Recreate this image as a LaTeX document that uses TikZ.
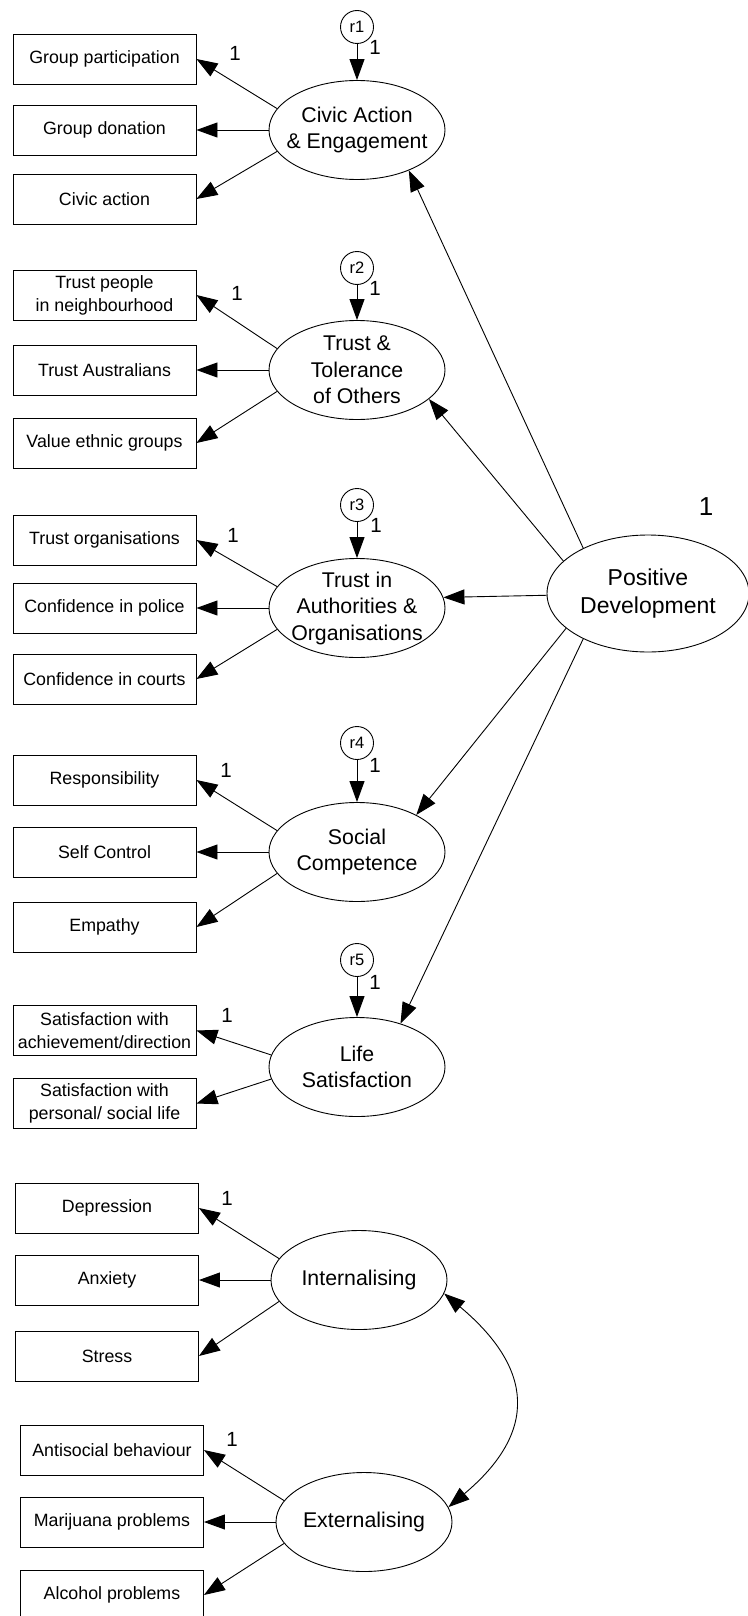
\documentclass[tikz,border=0pt]{standalone}
\usepackage{fontspec}
\setmainfont{Liberation Sans}
\usetikzlibrary{arrows.meta,shapes.geometric}
\tikzset{
  >={Triangle[length=21pt,width=15pt]},
  measure/.style={draw, line width=.9pt, minimum width=183pt, minimum height=50pt, inner sep=0pt,
    align=center, font=\fontsize{17.8}{23}\selectfont},
  factor/.style={draw, ellipse, line width=.9pt, minimum width=176pt, minimum height=99pt, inner sep=-15pt,
    align=center, font=\fontsize{21.3}{26.5}\selectfont},
  err/.style={draw, circle, line width=.9pt, minimum size=33pt, inner sep=0pt, font=\fontsize{16.5}{18}\selectfont},
  link/.style={->, line width=.9pt},
  one/.style={font=\fontsize{20.5}{22}\selectfont}
}

\begin{document}
\begin{tikzpicture}[x=1pt,y=1pt]
  \useasboundingbox (0,0) rectangle (747,-1616);

  % civic action
  \node[factor] (civic) at (357,-130) {Civic Action\\\& Engagement};
  \node[measure] (civ1) at (104.5,-59) {Group participation};
  \node[measure] (civ2) at (104.5,-130) {Group donation};
  \node[measure] (civ3) at (104.5,-199) {Civic action};
  \node[err] (r1) at (357,-27) {r1};

  % trust and tolerance
  \node[factor] (tol) at (357,-370) {Trust \&\\Tolerance\\of Others};
  \node[measure] (tol1) at (104.5,-295) {Trust people\\in neighbourhood};
  \node[measure] (tol2) at (104.5,-370) {Trust Australians};
  \node[measure] (tol3) at (104.5,-443) {Value ethnic groups};
  \node[err] (r2) at (357,-268) {r2};

  % authorities
  \node[factor] (auth) at (357,-608) {Trust in\\Authorities \&\\Organisations};
  \node[measure] (aut1) at (104.5,-540) {Trust organisations};
  \node[measure] (aut2) at (104.5,-608) {Confidence in police};
  \node[measure] (aut3) at (104.5,-679) {Confidence in courts};
  \node[err] (r3) at (357,-505) {r3};

  % social competence
  \node[factor] (soc) at (357,-852) {Social\\Competence};
  \node[measure] (soc1) at (104.5,-780) {Responsibility};
  \node[measure] (soc2) at (104.5,-852) {Self Control};
  \node[measure] (soc3) at (104.5,-927) {Empathy};
  \node[err] (r4) at (357,-743) {r4};

  % life satisfaction
  \node[factor] (life) at (357,-1067) {Life\\Satisfaction};
  \node[measure] (lif1) at (104.5,-1030.5) {Satisfaction with\\achievement/direction};
  \node[measure] (lif2) at (104.5,-1103.5) {Satisfaction with\\personal/ social life};
  \node[err] (r5) at (357,-960) {r5};

  % internalising / externalising
  \node[factor] (intl) at (359,-1280) {Internalising};
  \node[measure] (int1) at (107,-1208) {Depression};
  \node[measure] (int2) at (107,-1280) {Anxiety};
  \node[measure] (int3) at (107,-1356) {Stress};
  \node[factor] (extl) at (364,-1522) {Externalising};
  \node[measure] (ext1) at (112,-1450) {Antisocial behaviour};
  \node[measure] (ext2) at (112,-1522) {Marijuana problems};
  \node[measure] (ext3) at (112,-1595) {Alcohol problems};

  \node[factor,minimum width=202pt,minimum height=117pt,font=\fontsize{23}{28}\selectfont]
    (pd) at (648,-593.5) {Positive\\Development};
  \node[font=\fontsize{26}{28}\selectfont] at (706,-507) {1};

  \foreach \f/\b in {civic/civ,tol/tol,auth/aut,soc/soc,intl/int,extl/ext}{
    \draw[link] (\f.165) -- (\b1.east);
    \draw[link] (\f.west) -- (\b2.east);
    \draw[link] (\f.195) -- (\b3.east);
  }
  \draw[link] (life.172) -- (lif1.east);
  \draw[link] (life.188) -- (lif2.east);

  \foreach \r/\f in {r1/civic,r2/tol,r3/auth,r4/soc,r5/life}
    \draw[link] (\r) -- (\f);

  \draw[link] (pd.145) -- (civic.322);
  \draw[link] (pd.159) -- (tol.338);
  \draw[link] (pd.181) -- (auth.7);
  \draw[link] (pd.203) -- (soc.32);
  \draw[link] (pd.215) -- (life.45);
  \draw[<->,line width=.9pt] (intl.351) to[out=-40,in=40,looseness=1.4] (extl.10);

  % fixed paths
  \foreach \x/\y in {235/53,237/293,233/535,226/770,227/1015,227/1198,232/1439,
                     375/47,375/288,376/525,375/765,375/982}
    \node[one] at (\x,-\y) {1};
\end{tikzpicture}
\end{document}
